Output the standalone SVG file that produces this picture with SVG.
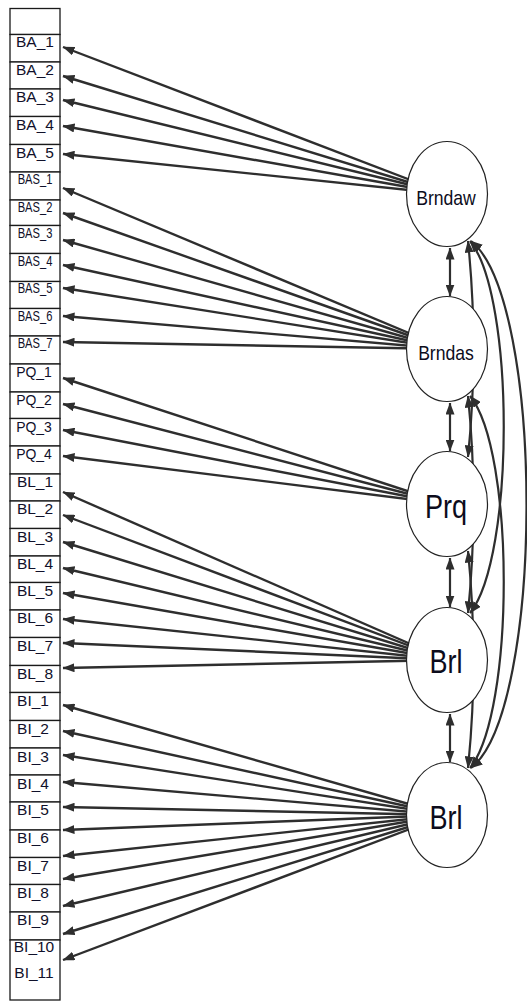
<svg xmlns="http://www.w3.org/2000/svg" width="527" height="1001" viewBox="0 0 527 1001">
<style>
.b{fill:#fff;stroke:#1a1a1a;stroke-width:1.3}
.t{font-family:"Liberation Sans",Arial,sans-serif;font-size:15.5px;fill:#10102a;text-anchor:middle}
.p{stroke:#2e2e2e;stroke-width:2.4;fill:none;marker-end:url(#ah)}
.d{stroke:#2e2e2e;stroke-width:2.2;fill:none;marker-start:url(#ah);marker-end:url(#ah)}
.c{fill:#fff;stroke:#222;stroke-width:1.2}
.L{font-family:"Liberation Sans",Arial,sans-serif;fill:#0c0c1c;text-anchor:middle}
</style>
<defs>
<marker id="ah" viewBox="0 0 12 9" refX="11.5" refY="4.5" markerWidth="12" markerHeight="9" markerUnits="userSpaceOnUse" orient="auto-start-reverse"><path d="M0,0 L12,4.5 L0,9 z" fill="#2e2e2e"/></marker>
</defs>
<g id="connectors">
<line class="p" x1="447" y1="194" x2="63" y2="47"/>
<line class="p" x1="447" y1="194" x2="63" y2="76"/>
<line class="p" x1="447" y1="194" x2="63" y2="100"/>
<line class="p" x1="447" y1="194" x2="63" y2="126"/>
<line class="p" x1="447" y1="194" x2="63" y2="154"/>
<line class="p" x1="447" y1="349" x2="63" y2="188"/>
<line class="p" x1="447" y1="349" x2="63" y2="213"/>
<line class="p" x1="447" y1="349" x2="63" y2="240"/>
<line class="p" x1="447" y1="349" x2="63" y2="265"/>
<line class="p" x1="447" y1="349" x2="63" y2="288"/>
<line class="p" x1="447" y1="349" x2="63" y2="316"/>
<line class="p" x1="447" y1="349" x2="63" y2="342"/>
<line class="p" x1="447" y1="504" x2="63" y2="378"/>
<line class="p" x1="447" y1="504" x2="63" y2="404"/>
<line class="p" x1="447" y1="504" x2="63" y2="430"/>
<line class="p" x1="447" y1="504" x2="63" y2="456"/>
<line class="p" x1="447" y1="660" x2="63" y2="492"/>
<line class="p" x1="447" y1="660" x2="63" y2="515"/>
<line class="p" x1="447" y1="660" x2="63" y2="542"/>
<line class="p" x1="447" y1="660" x2="63" y2="568"/>
<line class="p" x1="447" y1="660" x2="63" y2="593"/>
<line class="p" x1="447" y1="660" x2="63" y2="619"/>
<line class="p" x1="447" y1="660" x2="63" y2="643"/>
<line class="p" x1="447" y1="660" x2="63" y2="668"/>
<line class="p" x1="447" y1="815" x2="63" y2="705"/>
<line class="p" x1="447" y1="815" x2="63" y2="731"/>
<line class="p" x1="447" y1="815" x2="63" y2="755"/>
<line class="p" x1="447" y1="815" x2="63" y2="782"/>
<line class="p" x1="447" y1="815" x2="63" y2="807"/>
<line class="p" x1="447" y1="815" x2="63" y2="830"/>
<line class="p" x1="447" y1="815" x2="63" y2="856"/>
<line class="p" x1="447" y1="815" x2="63" y2="879"/>
<line class="p" x1="447" y1="815" x2="63" y2="906"/>
<line class="p" x1="447" y1="815" x2="63" y2="934"/>
<line class="p" x1="447" y1="815" x2="63" y2="960"/>
<line class="d" x1="450" y1="248" x2="450" y2="296"/>
<line class="d" x1="450" y1="403" x2="450" y2="451"/>
<line class="d" x1="450" y1="558" x2="450" y2="607"/>
<line class="d" x1="450" y1="714" x2="450" y2="762"/>
<path class="d" d="M468,241 Q479,349 468,457"/>
<path class="d" d="M468,396 Q479,504 468,613"/>
<path class="d" d="M468,551 Q479,660 468,768"/>
<path class="d" d="M470,241 C515,296 515,557 470,613"/>
<path class="d" d="M470,396 C515,451 515,712 470,768"/>
<path class="d" d="M471,241 C545,300 545,710 471,768"/>
</g>
<g id="indicators">
<rect class="b" x="10" y="8.5" width="50" height="26"/>
<g id="BA_1"><rect class="b" x="10" y="34.5" width="50" height="27.5"/><text class="t" x="35" y="47">BA_1</text></g>
<g id="BA_2"><rect class="b" x="10" y="62" width="50" height="27"/><text class="t" x="35" y="75">BA_2</text></g>
<g id="BA_3"><rect class="b" x="10" y="89" width="50" height="27.5"/><text class="t" x="35" y="102">BA_3</text></g>
<g id="BA_4"><rect class="b" x="10" y="116.5" width="50" height="28"/><text class="t" x="35" y="129.5">BA_4</text></g>
<g id="BA_5"><rect class="b" x="10" y="144.5" width="50" height="27.5"/><text class="t" x="35" y="157.5">BA_5</text></g>
<g id="BAS_1"><rect class="b" x="10" y="172" width="50" height="28"/><text class="t" transform="translate(35 184) scale(0.72 1)" font-size="14.5">BAS_1</text></g>
<g id="BAS_2"><rect class="b" x="10" y="200" width="50" height="25.5"/><text class="t" transform="translate(35 212) scale(0.72 1)" font-size="14.5">BAS_2</text></g>
<g id="BAS_3"><rect class="b" x="10" y="225.5" width="50" height="28"/><text class="t" transform="translate(35 238) scale(0.72 1)" font-size="14.5">BAS_3</text></g>
<g id="BAS_4"><rect class="b" x="10" y="253.5" width="50" height="28"/><text class="t" transform="translate(35 266) scale(0.72 1)" font-size="14.5">BAS_4</text></g>
<g id="BAS_5"><rect class="b" x="10" y="281.5" width="50" height="27"/><text class="t" transform="translate(35 293) scale(0.72 1)" font-size="14.5">BAS_5</text></g>
<g id="BAS_6"><rect class="b" x="10" y="308.5" width="50" height="27.5"/><text class="t" transform="translate(35 321) scale(0.72 1)" font-size="14.5">BAS_6</text></g>
<g id="BAS_7"><rect class="b" x="10" y="336" width="50" height="28"/><text class="t" transform="translate(35 348) scale(0.72 1)" font-size="14.5">BAS_7</text></g>
<g id="PQ_1"><rect class="b" x="10" y="364" width="50" height="28"/><text class="t" transform="translate(34 377) scale(0.9 1)">PQ_1</text></g>
<g id="PQ_2"><rect class="b" x="10" y="392" width="50" height="26.5"/><text class="t" transform="translate(34 405) scale(0.9 1)">PQ_2</text></g>
<g id="PQ_3"><rect class="b" x="10" y="418.5" width="50" height="27.5"/><text class="t" transform="translate(34 431.5) scale(0.9 1)">PQ_3</text></g>
<g id="PQ_4"><rect class="b" x="10" y="446" width="50" height="28"/><text class="t" transform="translate(34 459) scale(0.9 1)">PQ_4</text></g>
<g id="BL_1"><rect class="b" x="10" y="474" width="50" height="27"/><text class="t" x="35" y="487">BL_1</text></g>
<g id="BL_2"><rect class="b" x="10" y="501" width="50" height="27.5"/><text class="t" x="35" y="514">BL_2</text></g>
<g id="BL_3"><rect class="b" x="10" y="528.5" width="50" height="27.5"/><text class="t" x="35" y="541.5">BL_3</text></g>
<g id="BL_4"><rect class="b" x="10" y="556" width="50" height="26.5"/><text class="t" x="35" y="569">BL_4</text></g>
<g id="BL_5"><rect class="b" x="10" y="582.5" width="50" height="27.5"/><text class="t" x="35" y="595.5">BL_5</text></g>
<g id="BL_6"><rect class="b" x="10" y="610" width="50" height="27.5"/><text class="t" x="35" y="623">BL_6</text></g>
<g id="BL_7"><rect class="b" x="10" y="637.5" width="50" height="28"/><text class="t" x="35" y="650.5">BL_7</text></g>
<g id="BL_8"><rect class="b" x="10" y="665.5" width="50" height="27"/><text class="t" x="35" y="678.5">BL_8</text></g>
<g id="BI_1"><rect class="b" x="10" y="692.5" width="50" height="28"/><text class="t" x="33" y="706">BI_1</text></g>
<g id="BI_2"><rect class="b" x="10" y="720.5" width="50" height="27.5"/><text class="t" x="33" y="734">BI_2</text></g>
<g id="BI_3"><rect class="b" x="10" y="748" width="50" height="27"/><text class="t" x="33" y="761.5">BI_3</text></g>
<g id="BI_4"><rect class="b" x="10" y="775" width="50" height="27"/><text class="t" x="33" y="788.5">BI_4</text></g>
<g id="BI_5"><rect class="b" x="10" y="802" width="50" height="28"/><text class="t" x="33" y="815">BI_5</text></g>
<g id="BI_6"><rect class="b" x="10" y="830" width="50" height="27.5"/><text class="t" x="33" y="843">BI_6</text></g>
<g id="BI_7"><rect class="b" x="10" y="857.5" width="50" height="27"/><text class="t" x="33" y="870.5">BI_7</text></g>
<g id="BI_8"><rect class="b" x="10" y="884.5" width="50" height="27.5"/><text class="t" x="33" y="897.5">BI_8</text></g>
<g id="BI_9"><rect class="b" x="10" y="912" width="50" height="28"/><text class="t" x="33" y="925">BI_9</text></g>
<g id="BI_10_11"><rect class="b" x="10" y="940" width="50" height="60"/><text class="t" x="34" y="952">BI_10</text><text class="t" x="34" y="978">BI_11</text></g>
</g>
<g id="Brndaw"><ellipse class="c" cx="447" cy="194" rx="40.5" ry="52.5"/><text class="L" transform="translate(446 205) scale(0.88 1)" font-size="20">Brndaw</text></g>
<g id="Brndas"><ellipse class="c" cx="447" cy="349" rx="40.5" ry="52.5"/><text class="L" transform="translate(446 360) scale(0.88 1)" font-size="20">Brndas</text></g>
<g id="Prq"><ellipse class="c" cx="447" cy="504" rx="40.5" ry="52.5"/><text class="L" transform="translate(446 518) scale(0.82 1)" font-size="33">Prq</text></g>
<g id="Brl"><ellipse class="c" cx="447" cy="660" rx="40.5" ry="52.5"/><text class="L" transform="translate(446 673) scale(0.82 1)" font-size="33">Brl</text></g>
<g id="Brl_2"><ellipse class="c" cx="447" cy="815" rx="40.5" ry="52.5"/><text class="L" transform="translate(446 829) scale(0.82 1)" font-size="33">Brl</text></g>
</svg>
